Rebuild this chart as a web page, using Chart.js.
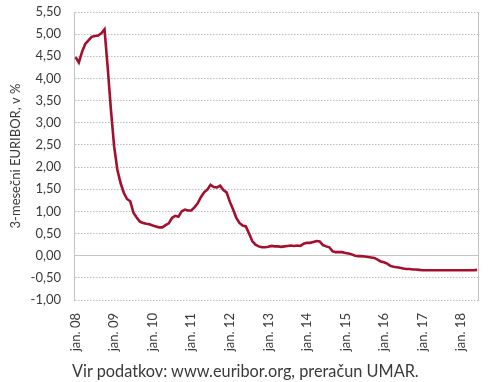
<!DOCTYPE html>
<html>
<head>
<meta charset="utf-8">
<script src="https://cdn.jsdelivr.net/npm/chart.js@4"></script>
<style>
  html, body { margin: 0; padding: 0; background: #fff; }
  #wrap { position: relative; width: 490px; height: 382px; overflow: hidden; }
  #note { position: absolute; left: 72px; top: 361px; font-family: Lato, sans-serif; font-size: 16.3px; line-height: 20px; color: #3a3a3a; white-space: nowrap; }
</style>
</head>
<body>
<div id="wrap">
  <canvas id="c" width="490" height="382"></canvas>
  <div id="note">Vir podatkov: www.euribor.org, preračun UMAR.</div>
</div>
<script>
const years = ["08","09","10","11","12","13","14","15","16","17","18"];
const months = ["jan.","feb.","mar.","apr.","maj","jun.","jul.","avg.","sep.","okt.","nov.","dec."];
const euribor3m = [
  4.48, 4.36, 4.60, 4.78, 4.86, 4.94, 4.96, 4.97, 5.02, 5.11, 4.24, 3.29,
  2.46, 1.94, 1.64, 1.42, 1.28, 1.23, 0.97, 0.86, 0.77, 0.74, 0.72, 0.71,
  0.68, 0.66, 0.64, 0.64, 0.69, 0.73, 0.85, 0.90, 0.88, 1.00, 1.04, 1.02,
  1.02, 1.09, 1.18, 1.32, 1.43, 1.49, 1.60, 1.55, 1.54, 1.58, 1.48, 1.43,
  1.22, 1.05, 0.86, 0.74, 0.68, 0.66, 0.50, 0.33, 0.25, 0.21, 0.19, 0.19,
  0.20, 0.22, 0.21, 0.21, 0.20, 0.21, 0.22, 0.23, 0.22, 0.23, 0.22, 0.27,
  0.29, 0.29, 0.31, 0.33, 0.32, 0.24, 0.21, 0.19, 0.10, 0.08, 0.08, 0.08,
  0.06, 0.05, 0.03, 0.00, -0.01, -0.01, -0.02, -0.03, -0.04, -0.05, -0.09, -0.13,
  -0.15, -0.18, -0.23, -0.25, -0.26, -0.27, -0.29, -0.30, -0.30, -0.31, -0.31, -0.32,
  -0.33, -0.33, -0.33, -0.33, -0.33, -0.33, -0.33, -0.33, -0.33, -0.33, -0.33, -0.33,
  -0.33, -0.33, -0.33, -0.33, -0.33, -0.32
];
const yTicks = [5.5,5,4.5,4,3.5,3,2.5,2,1.5,1,0.5,0,-0.5,-1];

const categories = [];
for (const y of years) for (const m of months) if (categories.length < euribor3m.length) categories.push(m + " " + y);

const FONT = "Lato, sans-serif";
const TXT = "#3a3a3a";

new Chart(document.getElementById("c"), {
  type: "line",
  data: {
    labels: categories,
    datasets: [{
      data: euribor3m,
      borderColor: "#A3102E",
      borderWidth: 2.6,
      pointRadius: 0,
      tension: 0,
      fill: false
    }]
  },
  options: {
    responsive: false,
    animation: false,
    devicePixelRatio: 1,
    layout: { padding: { top: 12, right: 8, bottom: 24, left: 0 } },
    plugins: { legend: { display: false }, tooltip: { enabled: false } },
    scales: {
      x: {
        type: "category",
        offset: true,
        grid: { display: false, drawTicks: false },
        border: { display: false },
        ticks: {
          autoSkip: false,
          maxRotation: 90,
          minRotation: 90,
          padding: 13,
          color: TXT,
          font: { family: FONT, size: 13 },
          callback: function(v, i) { return categories[i].startsWith("jan.") ? categories[i] : null; }
        },
        afterFit: function(s) { s.height = 58; }
      },
      y: {
        min: -1, max: 5.5,
        afterBuildTicks: function(s) { s.ticks = yTicks.map(v => ({ value: v })); },
        grid: {
          drawTicks: false,
          color: function(ctx) { return ctx.tick && ctx.tick.value === 0 ? "#c4c4c4" : "#bdbdbd"; },
          lineWidth: 1
        },
        border: {
          display: true,
          color: "#c4c4c4",
          width: 1,
          dash: function(ctx) { return ctx.tick && ctx.tick.value === 0 ? [] : [1.5, 1.5]; }
        },
        ticks: {
          padding: 13,
          color: TXT,
          font: { family: FONT, size: 13 },
          callback: function(v) { return v.toFixed(2).replace(".", ","); }
        },
        title: {
          display: true,
          text: "3-mesečni EURIBOR, v %",
          color: TXT,
          font: { family: FONT, size: 13 },
          padding: { top: 8, bottom: 0 }
        },
        afterFit: function(s) { s.width = 74; s.paddingTop = 0; s.paddingBottom = 0; }
      },
      y2: {
        position: "right",
        min: -1, max: 5.5,
        grid: { display: false, drawTicks: false },
        ticks: { display: false },
        border: { display: true, color: "#c4c4c4", width: 1 },
        afterFit: function(s) { s.width = 0; }
      }
    }
  }
});
</script>
</body>
</html>
